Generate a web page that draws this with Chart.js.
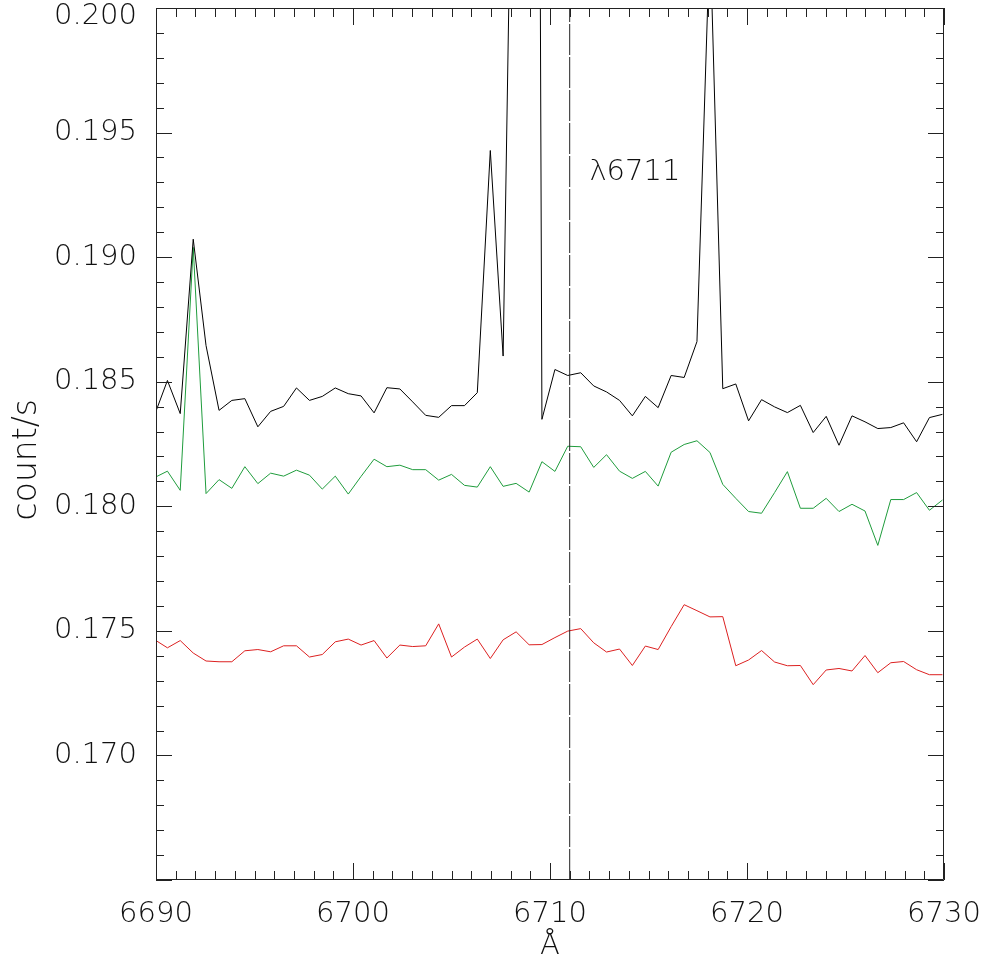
<!DOCTYPE html>
<html>
<head>
<meta charset="utf-8">
<script src="https://cdn.jsdelivr.net/npm/chart.js@4.4.1/dist/chart.umd.min.js"></script>
<style>
  html, body { margin: 0; padding: 0; background: #fff; }
  #wrap { width: 983px; height: 964px; position: relative; }
</style>
</head>
<body>
<div id="wrap"><canvas id="spec"></canvas></div>
<script>
// wavelength grid (Å)
const wave = [
  6689.92, 6690.58, 6691.23, 6691.89, 6692.54, 6693.20, 6693.85, 6694.51, 6695.17, 6695.82,
  6696.48, 6697.13, 6697.79, 6698.44, 6699.10, 6699.76, 6700.41, 6701.07, 6701.72, 6702.38,
  6703.03, 6703.69, 6704.35, 6705.00, 6705.66, 6706.31, 6706.97, 6707.62, 6708.28, 6708.94,
  6709.59, 6710.25, 6710.90, 6711.56, 6712.22, 6712.87, 6713.53, 6714.18, 6714.84, 6715.49,
  6716.15, 6716.81, 6717.46, 6718.12, 6718.77, 6719.43, 6720.08, 6720.74, 6721.40, 6722.05,
  6722.71, 6723.36, 6724.02, 6724.67, 6725.33, 6725.99, 6726.64, 6727.30, 6727.95, 6728.61,
  6729.26, 6729.92
];

const blackFlux = [
  0.18365, 0.18505, 0.18372, 0.19072, 0.18645, 0.18385, 0.18425, 0.18432, 0.18319, 0.18381,
  0.18401, 0.18475, 0.18425, 0.18441, 0.18475, 0.18452, 0.18443, 0.18375, 0.18476, 0.18471,
  0.18419, 0.18365, 0.18357, 0.18404, 0.18404, 0.18456, 0.19428, 0.18603, 0.2183, 0.3200,
  0.18349, 0.18549, 0.18525, 0.18536, 0.18483, 0.18459, 0.18425, 0.18363, 0.18441, 0.18396,
  0.18525, 0.18517, 0.18661, 0.20300, 0.18472, 0.18491, 0.18343, 0.18428, 0.18399, 0.18376,
  0.18405, 0.18296, 0.18361, 0.18245, 0.18363, 0.18339, 0.18312, 0.18316, 0.18335, 0.18259,
  0.18356, 0.18369
];

const greenFlux = [
  0.18115, 0.18141, 0.18064, 0.19039, 0.18051, 0.18107, 0.18072, 0.18159, 0.18091, 0.18133,
  0.18121, 0.18145, 0.18125, 0.18069, 0.18121, 0.18049, 0.18120, 0.18189, 0.18159, 0.18165,
  0.18147, 0.18147, 0.18105, 0.18128, 0.18084, 0.18077, 0.18159, 0.18080, 0.18092, 0.18057,
  0.18179, 0.18140, 0.18241, 0.18239, 0.18156, 0.18207, 0.18141, 0.18112, 0.18140, 0.18081,
  0.18217, 0.18248, 0.18263, 0.18216, 0.18088, 0.18032, 0.17979, 0.17972, 0.18055, 0.18139,
  0.17992, 0.17992, 0.18032, 0.17979, 0.18008, 0.17981, 0.17843, 0.18027, 0.18027, 0.18055,
  0.17984, 0.18025
];

const redFlux = [
  0.17465, 0.17432, 0.17461, 0.17411, 0.17379, 0.17376, 0.17376, 0.17420, 0.17425, 0.17416,
  0.17440, 0.17440, 0.17395, 0.17405, 0.17456, 0.17467, 0.17443, 0.17461, 0.17391, 0.17443,
  0.17437, 0.17440, 0.17528, 0.17395, 0.17435, 0.17467, 0.17389, 0.17464, 0.17496, 0.17444,
  0.17445, 0.17473, 0.17499, 0.17509, 0.17452, 0.17415, 0.17427, 0.17361, 0.17439, 0.17425,
  0.17517, 0.17605, 0.17581, 0.17556, 0.17557, 0.17360, 0.17383, 0.17421, 0.17375, 0.17360,
  0.17361, 0.17284, 0.17343, 0.17349, 0.17339, 0.17401, 0.17332, 0.17372, 0.17377, 0.17344,
  0.17324, 0.17324
];

const lineWave = 6711;
const lineLabel = 'λ6711';
const xTicks = [6690, 6700, 6710, 6720, 6730];
const yTicks = [0.165, 0.170, 0.175, 0.180, 0.185, 0.190, 0.195, 0.200];
const xRange = [6690, 6730];
const yRange = [0.165, 0.200];

const FONT = "'DejaVu Sans', sans-serif";
const INK = '#111';

const toPts = ys => ys.map((v, i) => ({ x: wave[i], y: v }));

// chart.js pads the area for edge labels; the original box runs right to them
const noEdgePad = s => { s.paddingTop = 0; s.paddingBottom = 0; s.paddingLeft = 0; s.paddingRight = 0; };

// IDL-style box with inward tick marks on all four sides
const boxTicks = {
  id: 'boxTicks',
  afterDatasetsDraw(chart) {
    const { ctx, chartArea: a, scales: { x, y } } = chart;
    ctx.save();
    ctx.strokeStyle = '#222';
    ctx.lineWidth = 1;
    ctx.beginPath();
    ctx.rect(a.left + 0.5, a.top + 0.5, a.right - a.left - 1, a.bottom - a.top - 1);
    for (let w = xRange[0]; w <= xRange[1]; w++) {
      const px = Math.round(x.getPixelForValue(w)) + 0.5;
      const len = w % 10 === 0 ? 17 : 9;
      ctx.moveTo(px, a.bottom); ctx.lineTo(px, a.bottom - len);
      ctx.moveTo(px, a.top); ctx.lineTo(px, a.top + len);
    }
    for (let k = 165; k <= 200; k++) {
      const py = Math.round(y.getPixelForValue(k / 1000)) + 0.5;
      const len = k % 5 === 0 ? 16 : 8;
      ctx.moveTo(a.left, py); ctx.lineTo(a.left + len, py);
      ctx.moveTo(a.right, py); ctx.lineTo(a.right - len, py);
    }
    ctx.stroke();

    ctx.fillStyle = INK;
    ctx.font = '200 29px ' + FONT;
    ctx.textAlign = 'left';
    ctx.textBaseline = 'middle';
    ctx.fillText(lineLabel, x.getPixelForValue(6712), y.getPixelForValue(0.1934));
    ctx.restore();
  }
};

new Chart(document.getElementById('spec'), {
  type: 'line',
  data: {
    datasets: [
      { data: [{ x: lineWave, y: yRange[0] }, { x: lineWave, y: yRange[1] }],
        borderColor: '#222', borderWidth: 1, borderDash: [31, 2] },
      { data: toPts(blackFlux), borderColor: '#000000', borderWidth: 1 },
      { data: toPts(greenFlux), borderColor: '#1f9c3c', borderWidth: 1 },
      { data: toPts(redFlux), borderColor: '#dc2020', borderWidth: 1 }
    ]
  },
  options: {
    responsive: true,
    maintainAspectRatio: false,
    animation: false,
    events: [],
    layout: { padding: { top: 8, right: 39, left: 0, bottom: 0 } },
    elements: { point: { radius: 0 }, line: { tension: 0 } },
    plugins: { legend: { display: false }, tooltip: { enabled: false } },
    scales: {
      x: {
        type: 'linear',
        min: xRange[0], max: xRange[1],
        afterBuildTicks: s => { s.ticks = xTicks.map(v => ({ value: v })); },
        afterFit: s => { s.height = 84; noEdgePad(s); },
        grid: { display: false, drawTicks: false },
        border: { display: false },
        ticks: {
          color: INK, padding: 17, maxRotation: 0, autoSkip: false,
          font: { family: FONT, size: 29, weight: 200 },
          callback: v => String(v)
        },
        title: {
          display: true, text: 'Å', color: INK, padding: 0,
          font: { family: FONT, size: 29, weight: 200 }
        }
      },
      y: {
        type: 'linear',
        min: yRange[0], max: yRange[1],
        afterBuildTicks: s => { s.ticks = yTicks.map(v => ({ value: v })); },
        afterFit: s => { s.width = 156; noEdgePad(s); },
        grid: { display: false, drawTicks: false },
        border: { display: false },
        ticks: {
          color: INK, padding: 19, autoSkip: false,
          font: { family: FONT, size: 29, weight: 200, lineHeight: '16px' },
          callback: v => v === yRange[0] ? '' : (v === yRange[1] ? ['', v.toFixed(3)] : v.toFixed(3))
        },
        title: {
          display: true, text: 'count/s\u00a0\u00a0\u00a0', color: INK, padding: { top: 8, bottom: 0 },
          font: { family: FONT, size: 33, weight: 200 }
        }
      }
    }
  },
  plugins: [boxTicks]
});
</script>
</body>
</html>
